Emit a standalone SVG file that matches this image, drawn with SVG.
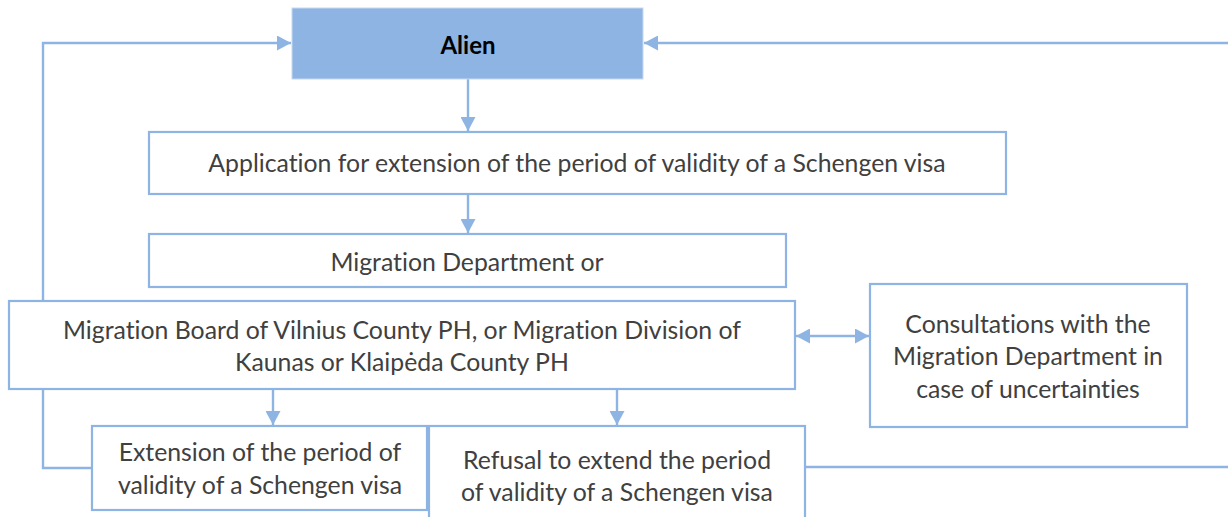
<svg xmlns="http://www.w3.org/2000/svg" width="1228" height="517" viewBox="0 0 1228 517">
<style>
.box{fill:#ffffff;stroke:#8EB4E3;stroke-width:2.2}
.alien{fill:#8EB4E3;stroke:#C6D9F1;stroke-width:1}
.conn{fill:none;stroke:#8EB4E3;stroke-width:2.4}
text{font-family:Lato,"Liberation Sans",sans-serif;font-size:24.8px;fill:#404040;text-anchor:middle;font-variant-ligatures:none}
.b{font-weight:bold;fill:#000000;font-size:24px}
</style>
<defs>
<marker id="ah" viewBox="0 0 14 15" refX="14" refY="7.5" markerWidth="14" markerHeight="15" markerUnits="userSpaceOnUse" orient="auto-start-reverse">
<path d="M0,0 L14,7.5 L0,15 Z" fill="#8EB4E3"/>
</marker>
</defs>
<g id="connectors">
<path class="conn" d="M92,468 H43 V43 H291" marker-end="url(#ah)"/>
<path class="conn" d="M806,467 H1230 V43 H644" marker-end="url(#ah)"/>
<path class="conn" d="M468,79 V131" marker-end="url(#ah)"/>
<path class="conn" d="M468,194 V233" marker-end="url(#ah)"/>
<path class="conn" d="M273,390 V425" marker-end="url(#ah)"/>
<path class="conn" d="M617,390 V425" marker-end="url(#ah)"/>
<path class="conn" d="M796,336 H869" marker-start="url(#ah)" marker-end="url(#ah)"/>
</g>
<g id="alien">
<rect class="alien" x="292" y="8" width="351" height="71"/>
<text class="b" x="468" y="54">Alien</text>
</g>
<g id="application">
<rect class="box" x="149" y="132" width="857" height="62"/>
<text x="577" y="172">Application for extension of the period of validity of a Schengen visa</text>
</g>
<g id="migration-department">
<rect class="box" x="149" y="234" width="637" height="53"/>
<text x="467" y="271">Migration Department or</text>
</g>
<g id="migration-board">
<rect class="box" x="9" y="301" width="786" height="88"/>
<text x="402" y="339">Migration Board of Vilnius County PH, or Migration Division of</text>
<text x="402" y="371">Kaunas or Klaipėda County PH</text>
</g>
<g id="consultations">
<rect class="box" x="870" y="284" width="317" height="143"/>
<text x="1028" y="333">Consultations with the</text>
<text x="1028" y="365">Migration Department in</text>
<text x="1028" y="398">case of uncertainties</text>
</g>
<g id="extension">
<rect class="box" x="92" y="426" width="335" height="84"/>
<text x="260" y="461">Extension of the period of</text>
<text x="260" y="494">validity of a Schengen visa</text>
</g>
<g id="refusal">
<rect class="box" x="429" y="426" width="376" height="100"/>
<text x="617" y="469">Refusal to extend the period</text>
<text x="617" y="501">of validity of a Schengen visa</text>
</g>
</svg>
